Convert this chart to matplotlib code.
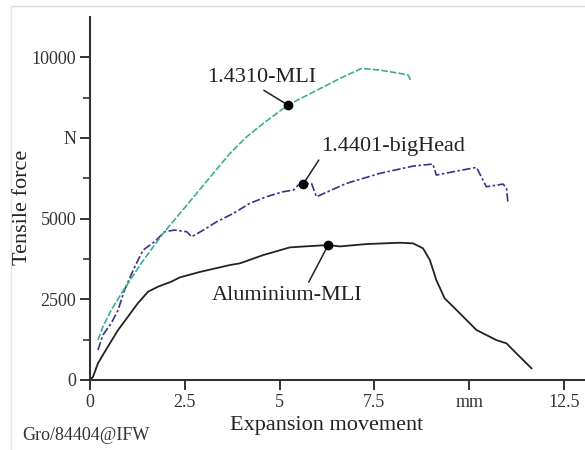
import matplotlib
matplotlib.use('Agg')
import matplotlib.pyplot as plt
from matplotlib.lines import Line2D

plt.rcParams['font.family'] = ['Liberation Serif', 'DejaVu Serif']

# curve 1.4310-MLI (green, dashed)
mli_x = [0.21, 0.34, 0.56, 0.83, 1.09, 1.35, 1.70, 1.93, 2.37, 2.81, 3.25, 3.69, 4.13, 4.57, 4.92,
         5.22, 5.88, 6.59, 7.16, 7.64, 8.17, 8.39, 8.47]
mli_y = [1239, 1651, 2169, 2685, 3150, 3615, 4182, 4545, 5164, 5784, 6404, 7023, 7537, 7952, 8262,
         8520, 8920, 9346, 9656, 9604, 9501, 9449, 9242]

# curve 1.4401-bigHead (purple, dash-dot)
big_x = [0.21, 0.34, 0.56, 0.74, 0.91, 1.18, 1.40, 1.70, 1.97, 2.23, 2.55, 2.68, 2.99, 3.34, 3.78,
         4.21, 4.65, 5.09, 5.36, 5.49, 5.62, 5.84, 5.97, 6.76, 7.64, 8.52, 9.04, 9.13, 9.57, 10.19,
         10.36, 10.45, 10.89, 10.98, 11.02]
big_y = [929, 1394, 1756, 2169, 2788, 3510, 4027, 4285, 4595, 4647, 4595, 4440, 4647, 4905, 5164,
         5473, 5679, 5834, 5886, 6041, 6072, 6093, 5679, 6093, 6403, 6630, 6692, 6351, 6453, 6589,
         6196, 5989, 6072, 5938, 5473]

# curve Aluminium-MLI (black, solid)
alu_x = [0.0, 0.08, 0.21, 0.47, 0.74, 1.00, 1.26, 1.53, 1.79, 2.14, 2.37, 2.90, 3.69, 3.95, 4.57,
         5.27, 5.80, 6.28, 6.59, 7.29, 8.17, 8.52, 8.78, 8.96, 9.13, 9.35, 9.75, 10.19, 10.71,
         10.98, 11.24, 11.64]
alu_y = [0, 102, 517, 1032, 1549, 1961, 2376, 2736, 2890, 3046, 3180, 3350, 3563, 3615, 3873,
         4110, 4150, 4182, 4140, 4213, 4254, 4234, 4079, 3718, 3098, 2531, 2066, 1549, 1239,
         1136, 826, 362]

# labels: name, marked point on curve, text anchor (left/baseline), leader start on text
labels = ['1.4310-MLI', '1.4401-bigHead', 'Aluminium-MLI']
label_points = [(5.22, 8520), (5.62, 6072), (6.28, 4182)]
label_text_pos = [(3.08, 9241), (6.10, 7094), (3.21, 2478)]
label_relpos = [(0.47, 0.0), (0.0, 0.0), (0.63, 1.0)]

xticks = [0, 2.5, 5, 7.5, 10, 12.5]
xticklabels = ['0', '2.5', '5', '7.5', 'mm', '12.5']
yticks = [0, 2500, 5000, 7500, 10000]
yticklabels = ['0', '2500', '5000', 'N', '10000']
yminor = [1250, 3750, 6250, 8750]

fig = plt.figure(figsize=(5.85, 4.5), dpi=100)
ax = fig.add_axes([90/585, 70/450, 495/585, 363/450])

ax.plot(alu_x, alu_y, color='#222222', lw=1.3)
ax.plot(big_x, big_y, color='#3d2f8c', lw=1.2, linestyle=(0, (5, 1.5, 1.5, 1.5)))
ax.plot(mli_x, mli_y, color='#3fae8c', lw=1.2, linestyle=(0, (4, 1.2)))

for name, pt, tp, rp in zip(labels, label_points, label_text_pos, label_relpos):
    ax.plot(pt[0], pt[1], 'o', color='black', markersize=6, zorder=5)
    ax.annotate(name, xy=pt, xytext=tp, ha='left', va='baseline', fontsize=16, color='#222222',
                arrowprops=dict(arrowstyle='-', color='#222222', lw=1.1, relpos=rp,
                                shrinkA=1, shrinkB=0))

ax.set_xlim(0, 13.05)
ax.set_ylim(0, 11250)
ax.set_xticks(xticks)
ax.set_xticklabels(xticklabels)
ax.set_yticks(yticks)
ax.set_yticklabels(yticklabels)
ax.set_yticks(yminor, minor=True)
ax.tick_params(axis='both', which='major', direction='out', length=7, width=1.4,
               labelsize=13, colors='#333333', pad=3)
ax.tick_params(axis='y', which='minor', direction='out', length=5, width=1.2, colors='#333333')

for s in ['top', 'right']:
    ax.spines[s].set_visible(False)
for s in ['left', 'bottom']:
    ax.spines[s].set_linewidth(1.5)
    ax.spines[s].set_color('#333333')

fig.text(23/585, (450-207)/450, 'Tensile force', rotation=90, ha='center', va='center',
         fontsize=16, color='#222222')
fig.text(327/585, 20/450, 'Expansion movement', ha='center', va='baseline',
         fontsize=16, color='#222222')
fig.text(22/585, 10/450, 'Gro/84404@IFW', ha='left', va='baseline', fontsize=13, color='#333333')

# faint frame of the original figure
fig.add_artist(Line2D([11/585, 1], [1 - 6/450, 1 - 6/450], transform=fig.transFigure,
                      color='#dddddd', lw=1))
fig.add_artist(Line2D([11/585, 11/585], [0, 1 - 6/450], transform=fig.transFigure,
                      color='#e6e6e6', lw=1))

fig.savefig('out.png', dpi=100)
